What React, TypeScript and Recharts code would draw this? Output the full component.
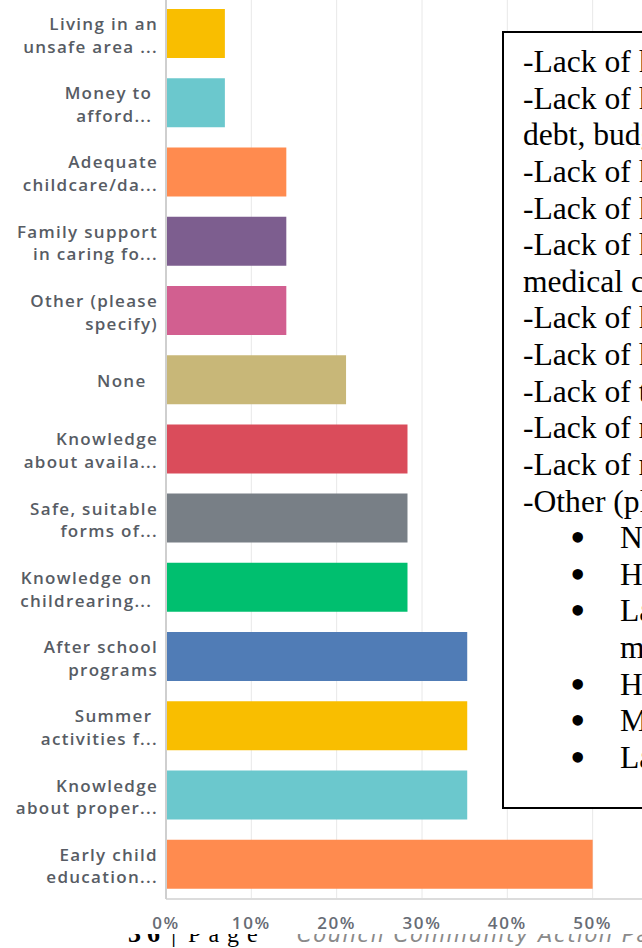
import React from 'react';
import { BarChart, Bar, XAxis, YAxis, CartesianGrid, Cell } from 'recharts';

const categories = [
  'Living in an\nunsafe area ...',
  'Money to \nafford... ',
  'Adequate\nchildcare/da...',
  'Family support\nin caring fo...',
  'Other (please\nspecify)',
  'None  ',
  'Knowledge\nabout availa...',
  'Safe, suitable\nforms of...',
  'Knowledge on \nchildrearing... ',
  'After school\nprograms',
  'Summer \nactivities f...',
  'Knowledge\nabout proper...',
  'Early child\neducation...',
];

const values = [6.9, 6.9, 14.1, 14.1, 14.1, 21.1, 28.3, 28.3, 28.3, 35.3, 35.3, 35.3, 50.0];

const barColors = [
  '#F9BE00', '#6BC8CD', '#FF8B4F', '#7D5E8F', '#D25F90', '#C8B778',
  '#DA4C5B', '#787F86', '#00BF6F', '#507CB6', '#F9BE00', '#6BC8CD', '#FF8B4F',
];

const xTicks = [0, 10, 20, 30, 40, 50, 60];

const noteLines = [
  '-Lack of knowledge of community resources',
  '-Lack of knowledge about managing money,',
  'debt, budgeting and saving',
  '-Lack of knowledge about nutrition',
  '-Lack of knowledge about parenting',
  '-Lack of knowledge about accessing',
  'medical care',
  '-Lack of knowledge about child safety',
  '-Lack of knowledge about child development',
  '-Lack of transportation',
  '-Lack of resources in the area',
  '-Lack of reliable childcare',
  '-Other (please specify):',
];

const otherItems = [
  ['None'],
  ['Housing'],
  ['Lack of support for single', 'mothers'],
  ['Healthcare'],
  ['Mental health services'],
  ['Lack of jobs'],
];

const data = categories.map((name, i) => ({ name, value: values[i] }));

const YTick = (props: any) => {
  const { x, y, payload } = props;
  const lines = String(payload.value).split('\n');
  const offsets = lines.length === 1 ? [7.7] : [-3.6, 19.1];
  return (
    <text
      x={x}
      y={y}
      textAnchor="end"
      fill="#575c64"
      fontFamily="'Open Sans', sans-serif"
      fontSize={17}
      fontWeight={600}
      letterSpacing={1.3}
      style={{ whiteSpace: 'pre' }}
    >
      {lines.map((l, i) => (
        <tspan key={i} x={x} y={y + offsets[i]}>
          {l}
        </tspan>
      ))}
    </text>
  );
};

const serif = "'Liberation Serif', 'Times New Roman', serif";

export default function App() {
  return (
    <div
      style={{
        position: 'absolute',
        left: 0,
        top: 0,
        width: 642,
        height: 948,
        overflow: 'hidden',
        background: '#fff',
      }}
    >
      {/* page footer partly hidden behind the chart image */}
      <div style={{ position: 'absolute', left: 0, top: 922, width: 642, height: 30, zIndex: 0, fontFamily: serif, lineHeight: '24px' }}>
        <span style={{ position: 'absolute', left: 128, top: 0, fontSize: 26, fontWeight: 700, letterSpacing: 6 }}>36</span>
        <span style={{ position: 'absolute', left: 171, top: 0, fontSize: 26 }}>|</span>
        <span style={{ position: 'absolute', left: 188, top: 0, fontSize: 24, whiteSpace: 'pre', letterSpacing: 1 }}>P a g e</span>
        <span
          style={{
            position: 'absolute',
            left: 297,
            top: 1,
            fontSize: 21,
            fontStyle: 'italic',
            fontFamily: "'DejaVu Sans', sans-serif",
            letterSpacing: 1.6,
            color: '#8a8a8a',
            whiteSpace: 'nowrap',
          }}
        >
          Council Community Action Partnership
        </span>
      </div>

      <div
        style={{
          position: 'absolute',
          left: 0,
          top: -1,
          width: 642,
          height: 935,
          overflow: 'hidden',
          background: '#fff',
          zIndex: 1,
        }}
      >
        <BarChart
          width={700}
          height={934}
          data={data}
          layout="vertical"
          margin={{ top: 0, right: 22, bottom: 0, left: 0 }}
          barSize={49}
        >
          <CartesianGrid horizontal={false} stroke="#e8e8e8" />
          <XAxis
            type="number"
            domain={[0, 60]}
            ticks={xTicks}
            interval={0}
            tickFormatter={(v: number) => `${v}%`}
            axisLine={{ stroke: '#dcdcdc', strokeWidth: 2 }}
            tickLine={false}
            tickMargin={12}
            height={34}
            tick={{ fill: '#676c75', fontSize: 17, fontWeight: 600, fontFamily: "'Open Sans', sans-serif", letterSpacing: 1.6 }}
          />
          <YAxis
            type="category"
            dataKey="name"
            width={166}
            interval={0}
            axisLine={{ stroke: '#cfcfcf', strokeWidth: 2 }}
            tickLine={false}
            tick={<YTick />}
          />
          <Bar dataKey="value" isAnimationActive={false}>
            {data.map((d, i) => (
              <Cell key={d.name} fill={barColors[i]} />
            ))}
          </Bar>
        </BarChart>
      </div>

      {/* overlaid note box */}
      <div
        style={{
          position: 'absolute',
          left: 502,
          top: 31,
          width: 430,
          height: 778,
          boxSizing: 'border-box',
          border: '2px solid #000',
          background: '#fff',
          zIndex: 2,
          paddingTop: 11,
          paddingLeft: 19,
          fontFamily: serif,
          fontSize: 31.6,
          lineHeight: '36.63px',
          color: '#000',
        }}
      >
        {noteLines.map((l, i) => (
          <div key={'n' + i} style={{ whiteSpace: 'nowrap' }}>
            {l}
          </div>
        ))}
        {otherItems.map((item, i) => (
          <div key={'o' + i} style={{ position: 'relative', paddingLeft: 97 }}>
            <span style={{ position: 'absolute', left: 47, top: 0, fontSize: 44, lineHeight: '36.63px' }}>•</span>
            {item.map((l, j) => (
              <div key={j} style={{ whiteSpace: 'nowrap' }}>
                {l}
              </div>
            ))}
          </div>
        ))}
      </div>
    </div>
  );
}
